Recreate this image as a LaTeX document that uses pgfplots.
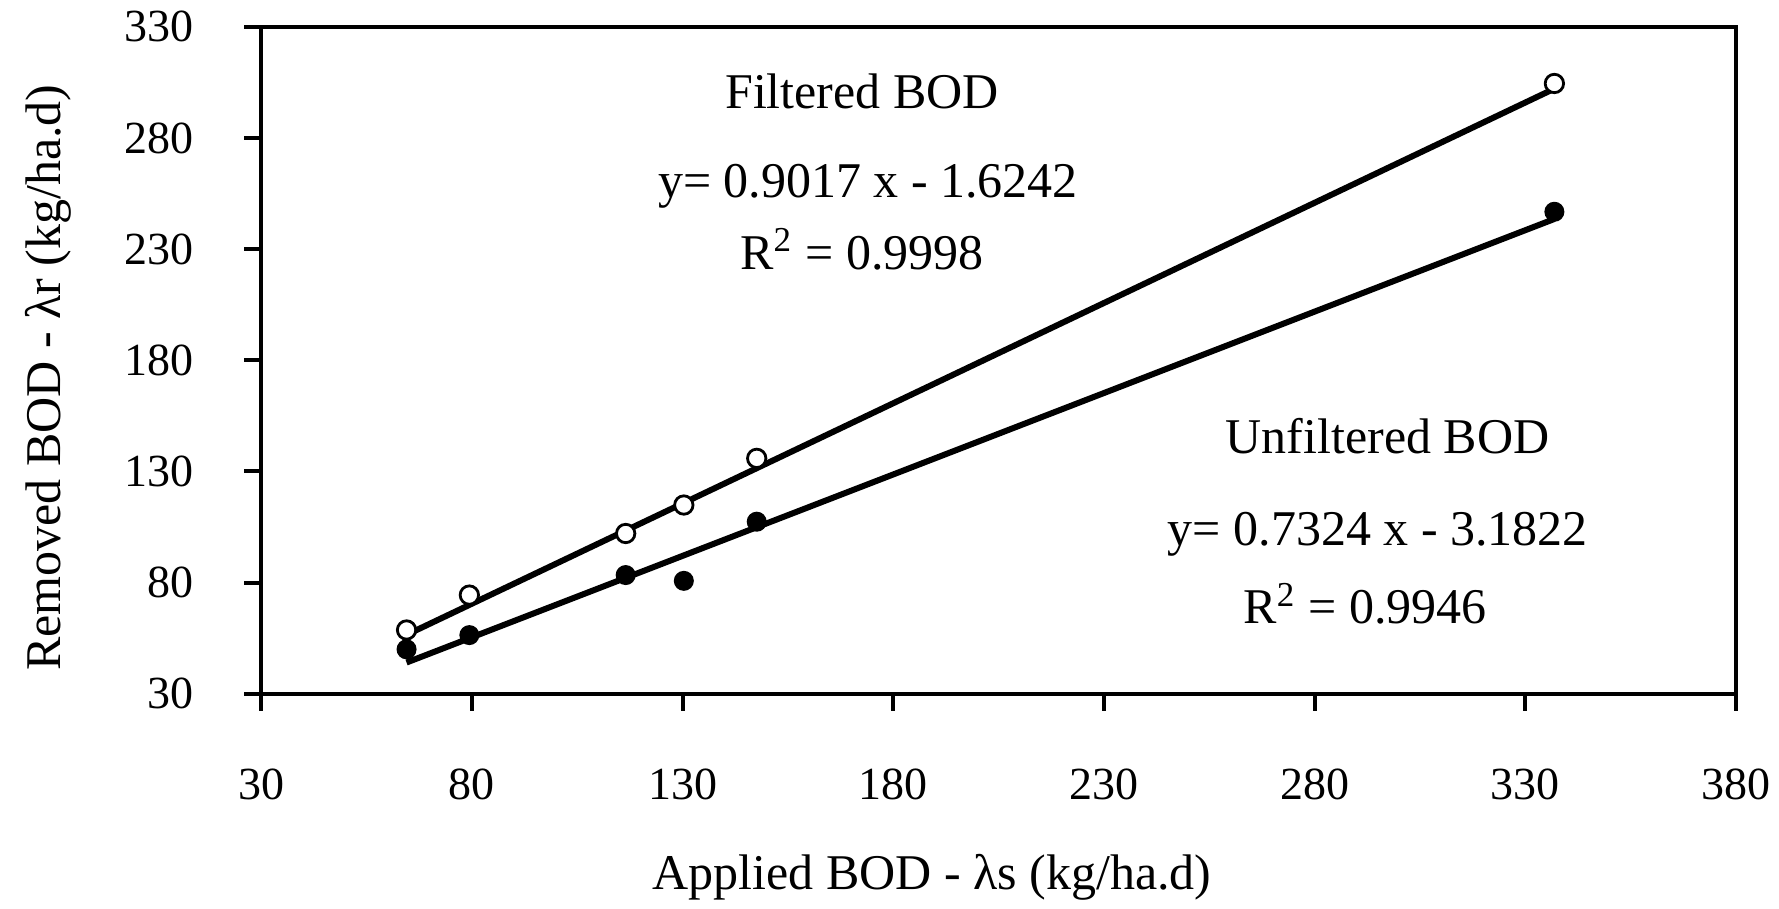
\documentclass[border=0pt]{standalone}
\usepackage{fontspec}
\setmainfont{Liberation Serif}
\usepackage{pgfplots}
\pgfplotsset{compat=1.18}
\usetikzlibrary{calc}
\begin{document}
\begin{tikzpicture}
\begin{axis}[
    name=ax,
    scale only axis,
    width=368.7pt, height=166.75pt,
    xmin=30, xmax=380,
    ymin=30, ymax=330,
    xtick={30,80,...,380},
    ytick={30,80,...,330},
    axis line style={line width=1pt},
    tick style={line width=1pt, black},
    tick align=outside,
    major tick length=4.2pt,
    xtick pos=left, ytick pos=left,
    /pgf/number format/assume math mode=true,
    ticklabel style={font=\fontsize{11.5}{13}\selectfont},
    yticklabel style={anchor=east, inner sep=0pt, xshift=-12.4pt},
    xticklabel style={anchor=north, inner sep=0pt, yshift=-14.5pt},
    label style={font=\fontsize{12.5}{15}\selectfont},
    xlabel={Applied BOD - λs (kg/ha.d)},
    ylabel={Removed BOD - λr (kg/ha.d)},
    xlabel style={at={(axis description cs:0.455,-0.294)}, anchor=base},
    ylabel style={at={(axis description cs:-0.1446,0.474)}, anchor=center},
    clip=false,
]

% Filtered BOD (open circles)
\addplot[only marks, mark=*, mark size=2.3pt,
    mark options={fill=white, draw=black, line width=0.7pt}]
    coordinates {
    (64.5,58.7)(79.4,74.4)(116.5,102.1)(130.3,114.9)(147.6,135.9)(336.9,304.5)
    };

% Unfiltered BOD (filled circles)
\addplot[only marks, mark=*, mark size=2.3pt,
    mark options={fill=black, draw=black}]
    coordinates {
    (64.5,50.0)(79.4,56.4)(116.5,83.4)(130.3,80.8)(147.6,107.4)(336.9,246.8)
    };

% linear trendlines
\addplot[black, line width=1.5pt] coordinates {(64.5,56.53)(336.9,302.16)};
\addplot[black, line width=1.5pt] coordinates {(64.5,44.06)(336.9,243.56)};

\node[anchor=base, font=\fontsize{12.5}{15}\selectfont] at (axis cs:172.6,293.4) {Filtered BOD};
\node[anchor=base, font=\fontsize{12.5}{15}\selectfont] at (axis cs:174,253) {y= 0.9017 x - 1.6242};
\node[anchor=base, font=\fontsize{12.5}{15}\selectfont] at (axis cs:172.6,221) {R\textsuperscript{2} = 0.9998};
\node[anchor=base, font=\fontsize{12.5}{15}\selectfont] at (axis cs:297.3,138.3) {Unfiltered BOD};
\node[anchor=base, font=\fontsize{12.5}{15}\selectfont] at (axis cs:295,96.9) {y= 0.7324 x - 3.1822};
\node[anchor=base, font=\fontsize{12.5}{15}\selectfont] at (axis cs:292,61.5) {R\textsuperscript{2} = 0.9946};
\end{axis}
\pgfresetboundingbox
\path[use as bounding box] ($(ax.south west)+(-65.3pt,-53.6pt)$) rectangle ($(ax.north east)+(10.75pt,6.7pt)$);
\end{tikzpicture}
\end{document}
